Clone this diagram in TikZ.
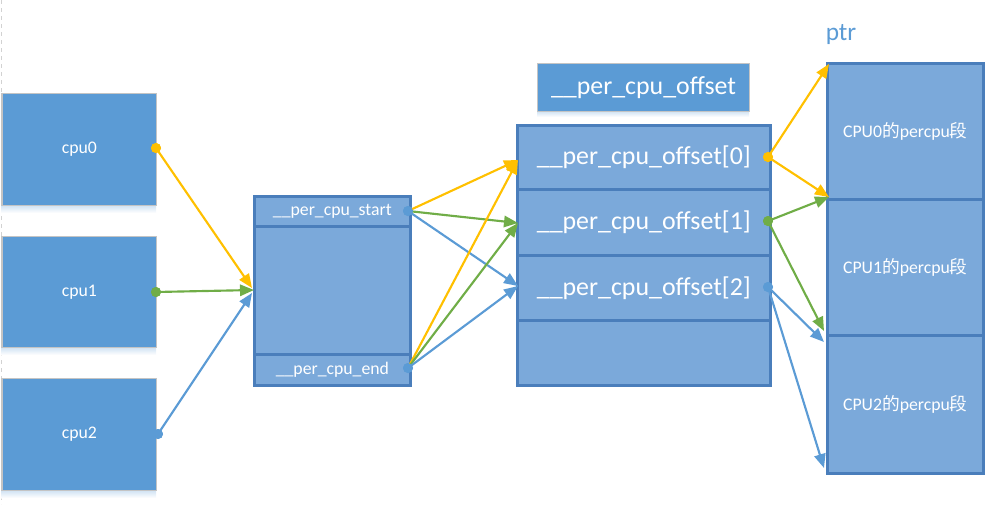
\documentclass[tikz,border=0pt]{standalone}
\usepackage{fontspec}
\setmainfont{Carlito}
\newfontfamily\cjk{Noto Sans CJK SC}
\usetikzlibrary{arrows.meta}
\definecolor{cblue}{HTML}{5B9BD5}
\definecolor{lblue}{HTML}{7BA9DA}
\definecolor{dblue}{HTML}{4A7EBB}
\definecolor{cyel}{HTML}{FFC000}
\definecolor{cgreen}{HTML}{70AD47}
\definecolor{cgray}{HTML}{C4C4C4}
\begin{document}
\begin{tikzpicture}[x=0.75pt,y=-0.75pt,
  sz/.style 2 args={minimum width={#1*0.75pt}, minimum height={#2*0.75pt}},
  cpubox/.style={draw=cgray,line width=0.9pt,fill=cblue,text=white,inner sep=0pt,anchor=north west,font=\fontsize{13.3}{15}\selectfont},
  cell/.style={draw=dblue,line width=2.1pt,fill=lblue,text=white,inner sep=0pt,anchor=north west},
  smalltxt/.style={font=\fontsize{13.3}{15}\selectfont},
  bigtxt/.style={font=\fontsize{19.4}{22}\selectfont},
  dot/.style={circle,fill=#1,inner sep=0pt,minimum size=7.5pt},
  arr/.style={draw=#1,line width=1.6pt,-{Triangle[length=10.5pt,width=8.5pt,fill=#1]}},
  shad/.style={top color=cblue!30,bottom color=white,draw=none}
]
\useasboundingbox (0,0) rectangle (993,504);
\draw[gray!35,dashed,line width=0.6pt] (1,0) -- (1,504);

% cpu boxes
\shade[shad] (1.5,205) rectangle (156,213);
\shade[shad] (1.5,347) rectangle (156,355);
\shade[shad] (1.5,490) rectangle (156,498);
\node[cpubox,sz={154.5}{112}] (cpu0) at (1.5,93) {cpu0};
\node[cpubox,sz={154.5}{111}] (cpu1) at (1.5,236) {cpu1};
\node[cpubox,sz={154.5}{112}] (cpu2) at (1.5,378) {cpu2};

% middle block
\node[cell,smalltxt,sz={156}{30}] (pstart) at (253,195) {\_\_per\_cpu\_start};
\node[cell,sz={156}{128}] (pmid) at (253,225) {};
\node[cell,smalltxt,sz={156}{31}] (pend) at (253,353) {\_\_per\_cpu\_end};

% offset header
\shade[shad] (537,111) rectangle (749,117);
\node[cpubox,bigtxt,sz={212}{48}] (offhdr) at (537,63) {\_\_per\_cpu\_offset};

% offset array
\node[cell,bigtxt,sz={253}{64}] (off0) at (516,124) {\_\_per\_cpu\_offset[0]};
\node[cell,bigtxt,sz={253}{66}] (off1) at (516,188) {\_\_per\_cpu\_offset[1]};
\node[cell,bigtxt,sz={253}{65}] (off2) at (516,254) {\_\_per\_cpu\_offset[2]};
\node[cell,sz={253}{65}] (off3) at (516,319) {};

% percpu sections
\node[cell,smalltxt,sz={156}{136}] (seg0) at (826,62) {CPU0{\cjk 的}percpu{\cjk 段}};
\node[cell,smalltxt,sz={156}{136}] (seg1) at (826,198) {CPU1{\cjk 的}percpu{\cjk 段}};
\node[cell,smalltxt,sz={156}{138}] (seg2) at (826,334) {CPU2{\cjk 的}percpu{\cjk 段}};
\node[text=cblue,font=\fontsize{19}{22}\selectfont,inner sep=0pt] (ptr) at (841,35) {ptr};

% dots
\node[dot=cyel] (d0) at (156,148) {};
\node[dot=cgreen] (d1) at (156,292) {};
\node[dot=cblue] (d2) at (158,434) {};
\node[dot=cblue] (ds) at (408,211) {};
\node[dot=cblue] (de) at (408,368) {};
\node[dot=cyel] (o0) at (768,157) {};
\node[dot=cgreen] (o1) at (768,221) {};
\node[dot=cblue] (o2) at (768,287) {};

% target points
\coordinate (tm0) at (252,288);
\coordinate (tm1) at (254,290);
\coordinate (tm2) at (252,293);
\coordinate (to0) at (518,160);
\coordinate (to1) at (518,223);
\coordinate (to2) at (518,286);
\coordinate (ts0) at (829,64);
\coordinate (ts1) at (829,197);
\coordinate (ts1b) at (824,331);
\coordinate (ts2) at (824,342);
\coordinate (ts2b) at (824,468);

% arrows
\draw[arr=cyel] (d0.center) -- (tm0);
\draw[arr=cgreen] (d1.center) -- (tm1);
\draw[arr=cblue] (d2.center) -- (tm2);
\draw[arr=cyel] (ds.center) -- (to0);
\draw[arr=cgreen] (ds.center) -- (to1);
\draw[arr=cblue] (ds.center) -- (to2);
\draw[arr=cyel] (de.center) -- (to0);
\draw[arr=cgreen] (de.center) -- (to1);
\draw[arr=cblue] (de.center) -- (to2);
\draw[arr=cyel] (o0.center) -- (ts0);
\draw[arr=cyel] (o0.center) -- (ts1);
\draw[arr=cgreen] (o1.center) -- (ts1);
\draw[arr=cgreen] (o1.center) -- (ts1b);
\draw[arr=cblue] (o2.center) -- (ts2);
\draw[arr=cblue] (o2.center) -- (ts2b);

% redraw dots on top
\foreach \n/\c in {d0/cyel,d1/cgreen,d2/cblue,ds/cblue,de/cblue,o0/cyel,o1/cgreen,o2/cblue}
  \fill[\c] (\n.center) circle[radius=3.75pt];
\end{tikzpicture}
\end{document}
